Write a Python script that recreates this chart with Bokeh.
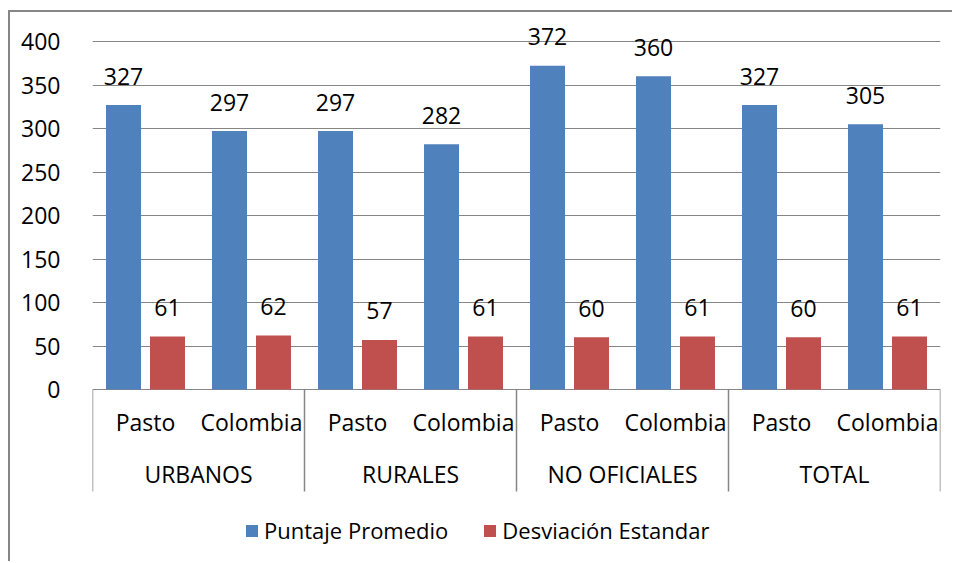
from bokeh.plotting import figure
from bokeh.models import (FactorRange, Range1d, ColumnDataSource, FixedTicker,
                          Legend, LegendItem)
from bokeh.transform import dodge
from bokeh.core.properties import value
from bokeh.embed import file_html
from bokeh.resources import INLINE

# ---- data ----
groups = ["URBANOS", "RURALES", "NO OFICIALES", "TOTAL"]
subs = ["Pasto", "Colombia"]
puntaje = [327, 297, 297, 282, 372, 360, 327, 305]
desviacion = [61, 62, 57, 61, 60, 61, 60, 61]
y_ticks = [0, 50, 100, 150, 200, 250, 300, 350, 400]
series_names = ["Puntaje Promedio", "Desviación Estandar"]

BLUE = "#4F81BD"
RED = "#C0504D"
GRID = "#868686"
FONT = "Open Sans"
FS = "23px"

factors = [(g, s) for g in groups for s in subs]
src = ColumnDataSource(dict(
    cat=factors,
    sub=[f[1] for f in factors],
    p=puntaje, d=desviacion,
    pl=[str(v) for v in puntaje], dl=[str(v) for v in desviacion],
))

x_range = FactorRange(*factors, factor_padding=0, subgroup_padding=0,
                      group_padding=0, range_padding=0)
px_per_unit = 0.87
ZERO = 389          # page y of value 0
FRAME_TOP = 22
FRAME_BOTTOM = 563
y_range = Range1d((ZERO - FRAME_BOTTOM) / px_per_unit, (ZERO - FRAME_TOP) / px_per_unit)

p = figure(width=944, height=551, x_range=x_range, y_range=y_range,
           output_backend="svg", toolbar_location=None,
           min_border_left=82, min_border_right=14, min_border_top=10,
           min_border_bottom=0)
p.styles = {"border-left": "2px solid #868686", "border-top": "2px solid #868686",
            "margin-top": "10px", "margin-left": "8px"}
p.outline_line_color = None
p.xaxis.visible = False
p.xgrid.visible = False

yax = p.yaxis[0]
yax.ticker = FixedTicker(ticks=y_ticks)
yax.axis_line_color = None
yax.major_tick_line_color = None
yax.minor_tick_line_color = None
yax.major_label_standoff = 26
yax.major_label_text_font = FONT
yax.major_label_text_font_size = FS
yax.major_label_text_color = "black"

p.ygrid.ticker = FixedTicker(ticks=y_ticks)
p.ygrid.grid_line_color = GRID
p.ygrid.grid_line_width = 1.2

off = 0.2075
bw = 0.33
r1 = p.vbar(x=dodge("cat", -off, range=x_range), top="p", width=bw, source=src,
            fill_color=BLUE, line_color=None)
r2 = p.vbar(x=dodge("cat", off, range=x_range), top="d", width=bw, source=src,
            fill_color=RED, line_color=None)

for xcol, ycol, lcol in ((-off, "p", "pl"), (off, "d", "dl")):
    p.text(x=dodge("cat", xcol, range=x_range), y=ycol, text=lcol, source=src,
           text_align="center", text_baseline="alphabetic", y_offset=-29,
           text_font=value(FONT), text_font_size=FS, text_color="black")

# category labels
p.text(x="cat", y=(ZERO - 421) / px_per_unit, text="sub", source=src,
       text_align="center", text_baseline="alphabetic",
       text_font=value(FONT), text_font_size=FS, text_color="black")
p.text(x=groups, y=[(ZERO - 473) / px_per_unit] * len(groups), text=groups,
       text_align="center", text_baseline="alphabetic",
       text_font=value(FONT), text_font_size=FS, text_color="black")

# group separators
bounds = [0]
for g in groups:
    bounds.append(bounds[-1] + len(subs))
p.segment(x0=bounds, x1=bounds, y0=[0] * len(bounds),
          y1=[(ZERO - 491) / px_per_unit] * len(bounds),
          line_color=GRID, line_width=1.5)

legend = Legend(items=[LegendItem(label=series_names[0], renderers=[r1]),
                       LegendItem(label=series_names[1], renderers=[r2])],
                orientation="horizontal", location=(152, 18),
                glyph_width=15, glyph_height=15, label_standoff=5, spacing=34,
                padding=0, margin=0, border_line_color=None,
                background_fill_alpha=0,
                label_text_font=FONT, label_text_font_size="22px",
                label_text_color="black")
p.add_layout(legend, "center")

open("out.html", "w").write(file_html(p, INLINE))
